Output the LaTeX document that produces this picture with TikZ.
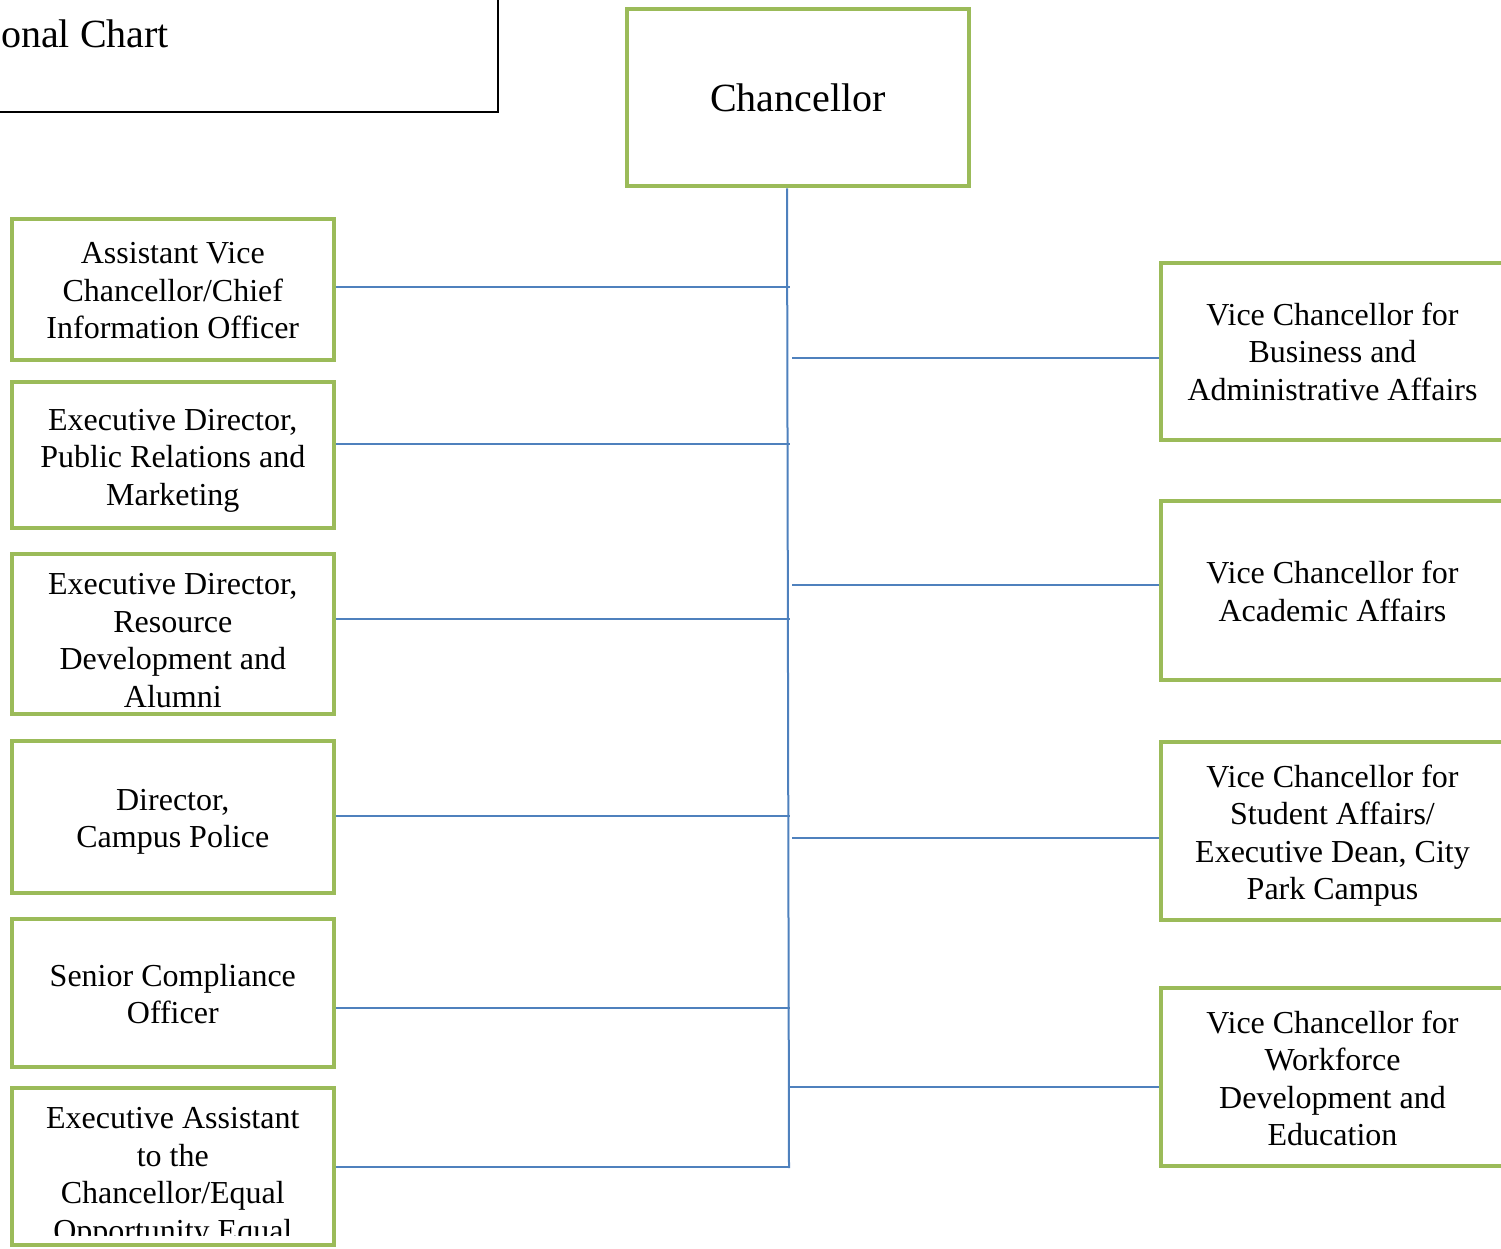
\documentclass[tikz,border=0pt]{standalone}
\usepackage{fontspec}
\setmainfont{Liberation Serif}
\definecolor{colorOne}{HTML}{9BBB59}
\definecolor{colorTwo}{HTML}{4F81BD}
\newcommand{\padtop}[1]{\rule{0pt}{#1}}
\tikzset{
  unit box/.style={
    draw=colorOne,line width=4.5pt,fill=white,align=center,inner sep=0pt,
    font=\fontsize{32}{37.5}\selectfont,
  },
  left unit/.style={unit box,minimum width=322pt},
  right unit/.style={unit box,minimum width=343pt},
  link/.style={draw=colorTwo,line width=2pt},
}

\begin{document}
\begin{tikzpicture}[x=1pt,y=-1pt]
   \useasboundingbox (0,0) rectangle (1501,1248);

   % TITLE
   \draw[line width=2pt] (-20,-20) rectangle (498,112);
   \node[anchor=base west,inner sep=0pt,font=\fontsize{40}{46}\selectfont] (title) at (1,47) {onal Chart};

   % NODES
   \node[unit box,minimum width=342pt,minimum height=177pt,font=\fontsize{40}{46}\selectfont] (chan) at (798,97.5) {Chancellor}; % root
   \node[left unit,minimum height=141pt] (cio) at (172.8,289.5) {\padtop{24pt}Assistant Vice\\Chancellor/Chief\\Information Officer};
   \node[left unit,minimum height=146pt] (prm) at (172.8,455) {\padtop{32pt}Executive Director,\\Public Relations and\\Marketing};
   \node[left unit,minimum height=160pt] (rda) at (172.8,634) {\padtop{34pt}Executive Director,\\Resource\\Development and\\Alumni};
   \node[left unit,minimum height=152pt] (cpd) at (172.8,817) {\padtop{31pt}Director,\\Campus Police};
   \node[left unit,minimum height=148pt] (sco) at (172.8,993) {\padtop{24pt}Senior Compliance\\Officer};
   \node[left unit,minimum height=157pt] (eae) at (172.8,1166.5) {\padtop{37pt}Executive Assistant\\to the\\Chancellor/Equal\\\smash{Opportunity Equal}};
   \node[right unit,minimum height=177pt] (vcba) at (1332.5,351.5) {Vice Chancellor for\\Business and\\Administrative Affairs};
   \node[right unit,minimum height=179pt] (vcaa) at (1332.5,590.5) {\padtop{24pt}Vice Chancellor for\\Academic Affairs};
   \node[right unit,minimum height=178pt] (vcsa) at (1332.5,831) {\padtop{32pt}Vice Chancellor for\\Student Affairs/\\Executive Dean, City\\Park Campus};
   \node[right unit,minimum height=178pt] (vcwd) at (1332.5,1077) {\padtop{25pt}Vice Chancellor for\\Workforce\\Development and\\Education};

   % CUT OFF LAST LINE
   \fill[white] ([xshift=3pt,yshift=11pt]eae.south west) rectangle ([xshift=-3pt,yshift=-8pt]eae.south east);
   \path[draw=colorOne,line width=4.5pt] ([shift={(2.25pt,2.25pt)}]eae.south west) rectangle ([shift={(-2.25pt,-2.25pt)}]eae.north east);

   % DRAW LINKS
   \coordinate (trunk) at (789,1168);
   \path[link] ([xshift=-11pt]chan.south)--(trunk);
   \foreach \n/\y in {cio/287,prm/444,rda/619,cpd/816,sco/1008,eae/1167}{
     \coordinate (j\n) at (790,\y);
     \path[link] (\n.east |- j\n)--(j\n);
   }
   \foreach \n/\y/\x in {vcba/358/792,vcaa/585/792,vcsa/838/792,vcwd/1087/788}{
     \coordinate (j\n) at (\x,\y);
     \path[link] (j\n)--(j\n -| \n.west);
   }

\end{tikzpicture}
\end{document}
